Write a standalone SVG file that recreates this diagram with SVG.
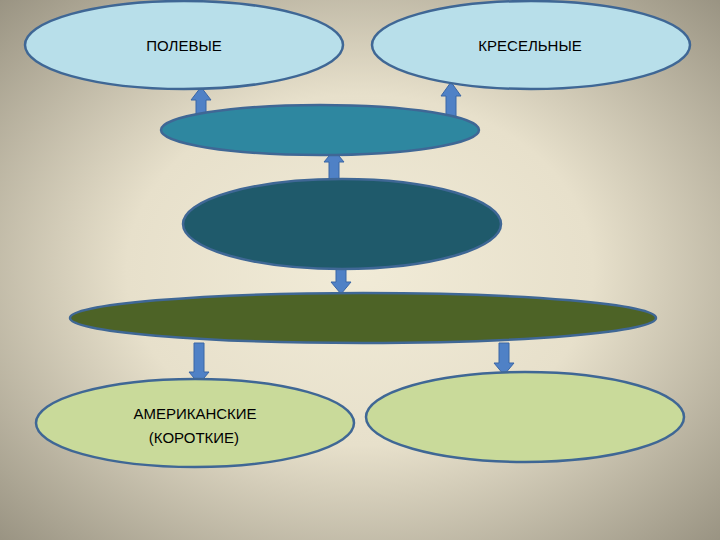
<svg xmlns="http://www.w3.org/2000/svg" width="720" height="540" viewBox="0 0 720 540">
<defs>
<radialGradient id="bg" cx="0.5" cy="0.5" r="0.72">
<stop offset="0" stop-color="#f1ebd7"/>
<stop offset="0.45" stop-color="#e7e0cb"/>
<stop offset="1" stop-color="#979180"/>
</radialGradient>
</defs>
<style>
.el{stroke:#3f6795;stroke-width:2.5}
.light{fill:#b8dfea}
.green{fill:#c9da9a}
.arr{fill:#4f81c6;stroke:#3b66a5;stroke-width:1}
.t{font-family:"Liberation Sans",Arial,sans-serif;font-size:15px;fill:#000;text-anchor:middle}
</style>
<rect width="720" height="540" fill="url(#bg)"/>
<g id="connectors">
<path class="arr" d="M196,116 V100 H191 L201,87 L211,100 H206 V116 Z"/>
<path class="arr" d="M446,117 V96 H441 L451,82 L461,96 H456 V117 Z"/>
<path class="arr" d="M329,180 V162 H324 L334,150 L344,162 H339 V180 Z"/>
<path class="arr" d="M336,269 V282 H331 L341,294 L351,282 H346 V269 Z"/>
<path class="arr" d="M194,343 V372 H189 L199,384 L209,372 H204 V343 Z"/>
<path class="arr" d="M499,343 V363 H494 L504,375 L514,363 H509 V343 Z"/>
</g>
<g id="n1"><ellipse class="el light" cx="184" cy="45" rx="159" ry="44"/><text class="t" x="184" y="51">ПОЛЕВЫЕ</text></g>
<g id="n2"><ellipse class="el light" cx="531" cy="45" rx="159" ry="44"/><text class="t" x="530" y="51">КРЕСЕЛЬНЫЕ</text></g>
<g id="n3"><ellipse class="el" fill="#2e87a0" cx="320" cy="130" rx="159" ry="25"/></g>
<g id="n4"><ellipse class="el" fill="#1f5a6b" cx="342" cy="224" rx="159" ry="45"/></g>
<g id="n5"><ellipse class="el" fill="#4d6326" cx="363" cy="318" rx="293" ry="25"/></g>
<g id="n6"><ellipse class="el green" cx="195" cy="423" rx="159" ry="44"/><text class="t" x="195" y="419">АМЕРИКАНСКИЕ</text><text class="t" x="194" y="443">(КОРОТКИЕ)</text></g>
<g id="n7"><ellipse class="el green" cx="525" cy="417" rx="159" ry="45"/></g>
</svg>
